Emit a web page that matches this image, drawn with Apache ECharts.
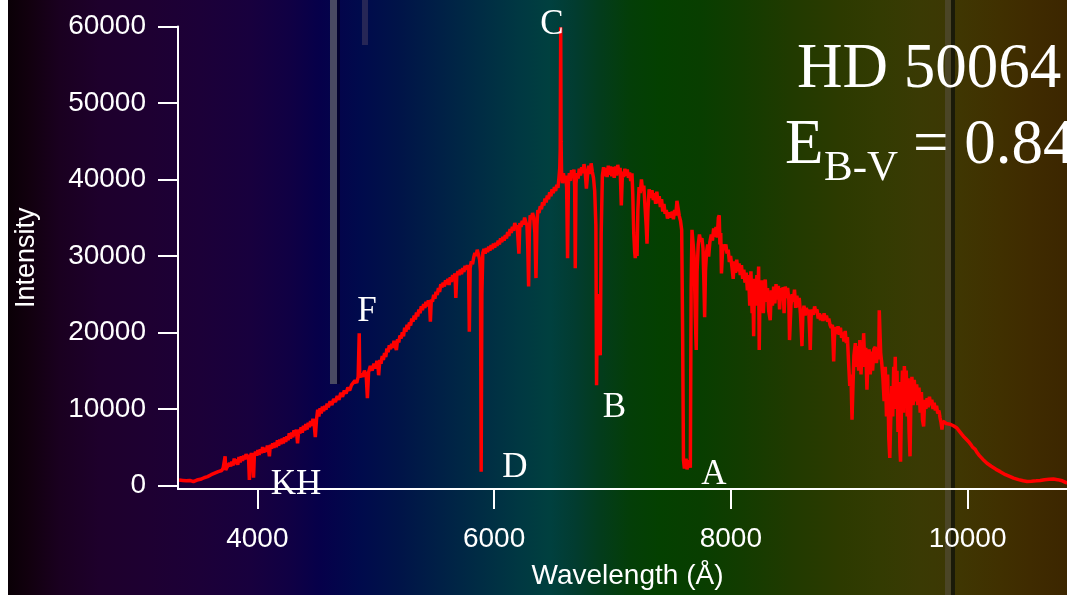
<!DOCTYPE html>
<html>
<head>
<meta charset="utf-8">
<script src="https://cdn.jsdelivr.net/npm/echarts@6/dist/echarts.min.js"></script>
<style>
html,body{margin:0;padding:0;background:#000;}
#main{width:1067px;height:595px;}
</style>
</head>
<body>
<div id="main"></div>
<script>
// spectrum, [wavelength (A), intensity]
var uvBlue = [
  [3340,700],[3355,800],[3370,650],[3385,900],[3400,600],[3415,700],[3430,650],[3445,550],[3460,500],
  [3475,650],[3490,700],[3505,750],[3520,800],[3535,950],[3550,1000],[3565,1100],[3580,1150],[3595,1300],
  [3610,1400],[3625,1500],[3640,1600],[3655,1750],[3670,1800],[3685,1900],[3700,1950],[3712,2300],
  [3720,2200],[3728,3800],[3733,2000],[3745,2400],[3755,2200],[3765,2900],[3775,2500],[3785,3100],
  [3795,2600],[3805,3500],[3815,2800],[3825,3400],[3835,2700],[3845,3700],[3855,3000],[3865,3800],
  [3875,3200],[3885,3900],[3895,3400],[3905,4100],[3915,3500],[3925,4000],[3933,700],[3940,3600],
  [3950,4200],[3960,3700],[3968,1000],[3975,3900],[3985,4400],[3995,3900],[4005,4600],[4015,4000],
  [4025,4700],[4035,4200],[4045,5000],[4055,4300],[4065,4900],[4075,4400],[4085,5200],[4095,4600],
  [4102,3800],[4110,5300],[4120,4800],[4130,5500],[4140,4900],[4150,5600],[4160,5000],[4170,5900],
  [4180,5200],[4190,6000],[4200,5400],[4210,6100],[4220,5500],[4230,6300],[4240,5700],[4250,6400],
  [4260,5900],[4270,6800],[4280,6100],[4290,6900],[4300,6300],[4310,7200],[4320,6500],[4330,7300],
  [4340,5500],[4350,7300],[4360,6800],[4370,7600],[4380,6900],[4390,7800],[4400,7200],[4410,8000],
  [4420,7300],[4430,8200],[4440,7600],[4450,8400],[4460,7800],[4470,8700],[4480,8000],[4490,6300]
];
var blueGreen = [
  [4500,8600],[4510,9900],[4520,9000],[4530,10100],[4540,9400],[4550,10300],[4560,9700],[4570,10400],
  [4580,9900],[4590,10700],[4600,10200],[4615,11000],[4630,10500],[4645,11300],[4660,10900],[4675,11700],
  [4690,11200],[4705,12100],[4720,11600],[4735,12400],[4750,12000],[4765,12800],[4780,12400],[4795,13100],
  [4810,12900],[4825,13700],[4840,13400],[4852,14200],[4858,14000],[4861,19900],[4865,14100],[4875,14600],
  [4890,14200],[4905,15000],[4920,14300],[4930,11400],[4940,14800],[4955,15600],[4970,15000],[4985,15900],
  [5000,15300],[5010,16300],[5020,15500],[5025,14400],[5035,16400],[5045,15900],[5055,16900],[5065,16400],
  [5075,17300],[5085,16800],[5095,17900],[5105,17400],[5115,18300],[5125,17800],[5135,18500],[5145,18000],
  [5155,18900],[5165,18200],[5175,17700],[5185,19100],[5195,18700],[5205,19600],[5215,19200],[5225,20000],
  [5235,19500],[5245,20600],[5255,20100],[5265,21000],[5275,20400],[5285,21300],[5295,20900],[5305,21800],
  [5315,21400],[5325,22200],[5335,21700],[5345,22600],[5355,22100],[5365,23000],[5375,22500],[5385,23400],
  [5395,22900],[5405,23700],[5415,23200],[5425,24000],[5435,23400],[5445,24200],[5455,23700],[5462,21400],
  [5470,24300],[5480,24000],[5490,24900],[5500,24400],[5510,25300],[5520,24900],[5530,25800],[5540,25300],
  [5550,26300],[5560,25900],[5570,26500],[5580,26000],[5590,26800],[5600,26300],[5610,27000],[5620,26200],
  [5630,27200],[5640,26600],[5650,27500],[5660,27000],[5670,27700],[5677,24500],[5685,27400],[5695,28000],
  [5705,27500],[5715,28200],[5725,27600],[5735,28400],[5745,27900],[5755,28700],[5765,28200],[5775,28800],
  [5785,28300],[5791,20100],[5798,28400],[5808,29300],[5818,28900],[5828,29800],[5838,30400],[5848,30000],
  [5858,30800],[5868,30200],[5878,29500],[5885,28000],[5891,1800],[5897,25000],[5905,30400],[5915,30900],
  [5925,30300],[5935,31000],[5945,30500],[5955,31200],[5965,30700],[5975,31400],[5985,30900],[5995,31600]
];
var redPart = [
  [6005,31100],[6015,31700],[6025,31300],[6035,32000],[6045,31500],[6055,32300],[6065,31800],[6075,32500],
  [6085,32000],[6095,32700],[6105,32300],[6115,33100],[6125,32600],[6135,33500],[6145,33000],[6155,33800],
  [6165,33300],[6175,34300],[6185,33700],[6195,34000],[6205,31500],[6210,30300],[6218,34300],[6228,33800],
  [6238,34600],[6248,34100],[6258,35000],[6268,34400],[6278,34000],[6285,31000],[6292,26000],[6298,33000],
  [6305,35300],[6315,34800],[6325,35600],[6335,35000],[6345,33000],[6354,27100],[6362,34000],[6370,36000],
  [6380,35600],[6390,36500],[6400,36100],[6410,37000],[6420,36600],[6430,37500],[6440,37000],[6450,37900],
  [6460,37400],[6470,38300],[6480,37800],[6490,38700],[6500,38200],[6510,39000],[6520,38500],[6530,39300],
  [6540,38900],[6548,40200],[6555,41500],[6559,44000],[6563,59900],[6566,45000],[6570,41000],[6578,39500],
  [6586,40800],[6595,39600],[6605,40500],[6613,39000],[6621,29700],[6628,39500],[6636,40800],[6645,39800],
  [6655,41200],[6665,40300],[6675,41300],[6681,39000],[6686,28400],[6692,39500],[6700,40800],[6710,40100],
  [6720,41400],[6730,40500],[6740,41600],[6750,40800],[6760,42000],[6770,40900],[6780,38800],[6790,40600],
  [6800,41800],[6810,40700],[6820,42100],[6830,41000],[6840,40200],[6850,38500],[6860,34000],[6866,13100],
  [6872,24000],[6880,18500],[6888,25000],[6897,17000],[6905,33000],[6915,40500],[6925,41600],[6935,40400],
  [6945,41500],[6955,40300],[6965,41800],[6975,40600],[6985,41700],[6995,40400]
];
var farRed = [
  [7005,41600],[7015,40200],[7025,41700],[7035,40500],[7045,41900],[7055,40800],[7065,41500],[7075,36600],
  [7085,41000],[7095,40300],[7105,41400],[7115,40500],[7125,41300],[7135,40200],[7145,40900],[7155,39800],
  [7165,40800],[7172,38000],[7180,33000],[7188,30500],[7193,29700],[7200,31500],[7208,30000],[7215,36000],
  [7225,39000],[7235,38200],[7245,40000],[7255,38500],[7265,39200],[7275,36500],[7285,34000],[7292,31600],
  [7300,36000],[7310,38700],[7320,37600],[7334,38600],[7345,37300],[7355,38200],[7365,36800],[7375,38400],
  [7385,36900],[7395,37800],[7405,36400],[7415,37400],[7425,35800],[7435,36800],[7445,35500],[7455,36000],
  [7465,34900],[7475,34700],[7485,35700],[7495,35000],[7505,35800],[7515,34800],[7525,36000],[7535,35300],
  [7545,37200],[7555,37300],[7565,35200],[7575,34600],[7585,33400],[7593,20000],[7600,3300],[7608,2200],
  [7615,2000],[7622,3500],[7630,2100],[7638,2800],[7645,2600],[7652,3200],[7658,2300],[7665,26000],
  [7672,33400],[7682,31500],[7690,30000],[7700,22000],[7708,17700],[7715,28000],[7725,31500],[7735,32800],
  [7745,31900],[7756,32300],[7765,31000],[7772,27000],[7779,22000],[7786,28000],[7795,30500],[7805,31500],
  [7813,29900],[7823,31800],[7835,32800],[7845,32000],[7855,33600],[7865,32500],[7875,33800],[7885,32400],
  [7895,35000],[7902,35300],[7908,31500],[7915,33000],[7921,27700],[7928,30000],[7938,31500],[7948,30800],
  [7958,31500],[7968,30300],[7978,30800],[7988,29200],[7998,30000]
];
var nearIR = [
  [8010,28500],[8020,27000],[8030,29300],[8040,27800],[8050,29500],[8060,28000],[8070,29000],[8080,27500],
  [8090,28800],[8100,27000],[8110,28200],[8120,26500],[8130,27800],[8140,25500],[8150,27500],[8160,23500],
  [8170,28000],[8180,22500],[8186,26000],[8193,19500],[8200,27000],[8210,23500],[8220,27500],[8228,24000],
  [8235,28600],[8240,17700],[8247,26000],[8255,23500],[8265,26800],[8275,22500],[8285,26500],[8291,26900],
  [8300,24000],[8310,25800],[8320,22800],[8333,21600],[8342,25500],[8352,23500],[8362,26000],[8372,23800],
  [8382,26300],[8392,24300],[8402,26100],[8412,23000],[8422,25800],[8432,24200],[8442,25900],[8450,22500],
  [8460,26000],[8470,24500],[8480,25800],[8490,24300],[8496,19000],[8502,19000],[8508,23500],[8518,25000],
  [8528,24000],[8538,25600],[8548,23200],[8558,24800],[8568,23300],[8578,24500],[8588,22500],[8596,20000],
  [8601,18200],[8608,22000],[8618,23500],[8628,22200],[8638,23200],[8648,22400],[8658,23000],[8665,20500],
  [8671,17700],[8678,22000],[8688,23000],[8698,22300],[8708,23400],[8718,22600],[8728,23000],[8738,21800],
  [8748,22500],[8758,21600],[8768,22300],[8778,21500],[8788,22500],[8798,21600],[8808,22200],[8818,21400],
  [8828,21800],[8838,21000],[8848,20600],[8858,21000],[8864,18500],[8869,16200],[8876,19500],[8886,20700],
  [8896,19800],[8906,20800],[8916,19700],[8926,20600],[8936,19300],[8946,20000],[8956,18800],[8966,20200],
  [8976,18600],[8985,19400],[8995,16000],[9005,13000],[9015,14500],[9024,8600],[9032,13000],[9040,17000],
  [9052,18600],[9060,15500],[9070,18200],[9080,15000],[9090,19000],[9100,14500],[9110,18500],[9116,15500],
  [9122,19900],[9130,16500],[9140,18000],[9150,12500],[9158,16000],[9168,17800],[9178,14500],[9188,17500],
  [9198,15000],[9208,17800],[9220,18100],[9230,16000],[9240,17600],[9250,16500],[9254,22900],[9260,22900],
  [9266,17300],[9275,16000],[9285,14000],[9295,11000],[9305,15500],[9315,9000],[9325,14500],[9335,6000],
  [9343,3600],[9350,8000],[9360,13000],[9368,9000],[9376,15500],[9384,12000],[9389,16800],[9396,10000],
  [9404,15000],[9412,7000],[9420,13500],[9428,5000],[9434,3100],[9442,11000],[9450,15000],[9458,9500],
  [9466,15600],[9474,13000],[9482,15000],[9490,9000],[9498,14000],[9506,7000],[9514,3800],[9522,12000],
  [9530,14200],[9540,10500],[9550,13800],[9560,11000],[9570,13200],[9580,10500],[9590,12800],[9600,9500],
  [9610,12200],[9620,8500],[9629,7700],[9638,11200],[9648,10000],[9658,11400],[9668,10200],[9678,11600],
  [9688,10500],[9698,11200],[9708,10000],[9718,10800],[9728,9800],[9738,10400],[9748,9400],[9758,9800],
  [9768,8800],[9776,8200],[9784,7300],[9792,8400],[9805,8600],[9820,8100],[9835,8300],[9850,8000],
  [9865,8200],[9880,7800],[9896,7900],[9910,7500],[9930,7100],[9950,6700],[9966,6400],[9985,6100],
  [10000,5900],[10015,5600],[10030,5300],[10042,5000],[10050,4800],[10056,5200],[10065,4700],[10080,4300],
  [10100,3900],[10130,3400],[10164,2900],[10200,2500],[10240,2100],[10276,1800],[10320,1400],[10360,1150],
  [10389,950],[10430,750],[10470,600],[10502,520],[10540,550],[10580,600],[10614,650],[10650,750],
  [10690,800],[10726,830],[10760,750],[10800,600],[10842,300]
];
var spectrum = uvBlue.concat(blueGreen, redPart, farRed, nearIR);

// Fraunhofer letters, placed at [wavelength, intensity]
var lineMarks = [
  ['KH', 4327, 90],
  ['F', 4927, 22700],
  ['D', 6176, 2300],
  ['C', 6489, 60250],
  ['B', 7017, 10150],
  ['A', 7857, 1400]
];
var xTicks = [4000, 6000, 8000, 10000];
var yTicks = [0, 10000, 20000, 30000, 40000, 50000, 60000];

// background colour of the strip behind the plot, [pixel x, colour]
var bgStops = [
  [8,'#0a0006'],[30,'#12000f'],[60,'#1a0020'],[100,'#1e002c'],[150,'#1e0032'],[200,'#1c0038'],
  [250,'#18003e'],[290,'#100044'],[320,'#06004a'],[360,'#000a4c'],[400,'#001448'],[440,'#002046'],
  [480,'#002c44'],[520,'#003842'],[550,'#00403f'],[575,'#023c30'],[600,'#033c1c'],[630,'#043e08'],
  [660,'#044000'],[700,'#083e00'],[740,'#123c00'],[790,'#203a00'],[840,'#2c3a00'],[880,'#333b02'],
  [920,'#3a3a04'],[945,'#3c3804'],[960,'#3f3602'],[1000,'#403000'],[1030,'#3f2b00'],[1067,'#3c2600']
];

var myChart = echarts.init(document.getElementById('main'));

var stops = bgStops.map(function (s) {
  return { offset: (s[0] - 8) / 1059, color: s[1] };
});

var axisFont = 'Liberation Sans';
var serif = 'Liberation Serif';
function plain(v) { return String(v); }

var option = {
  animation: false,
  grid: { left: 178, right: 0, top: 26.4, bottom: 105.7 },
  graphic: [
    { type: 'rect', z: -10, shape: { x: 0, y: 0, width: 8, height: 595 }, style: { fill: '#ffffff' } },
    { type: 'rect', z: -10, shape: { x: 8, y: 0, width: 1059, height: 595 },
      style: { fill: new echarts.graphic.LinearGradient(0, 0, 1, 0, stops) } },
    { type: 'rect', z: -9, shape: { x: 330, y: 0, width: 7, height: 384 }, style: { fill: '#4a4a62' } },
    { type: 'rect', z: -9, shape: { x: 337, y: 0, width: 3, height: 384 }, style: { fill: '#02002e' } },
    { type: 'rect', z: -9, shape: { x: 362, y: 0, width: 6, height: 45 }, style: { fill: '#262656' } },
    { type: 'rect', z: -9, shape: { x: 945, y: 0, width: 6, height: 595 }, style: { fill: '#4b4526' } },
    { type: 'rect', z: -9, shape: { x: 951, y: 0, width: 4, height: 595 }, style: { fill: '#1a1a08' } },
    { type: 'text', z: 10, left: 797, top: 39,
      style: { text: 'HD 50064', fill: '#ffffff', font: '63px "' + serif + '"' } },
    { type: 'text', z: 10, left: 785, top: 115,
      style: { text: 'E', fill: '#ffffff', font: '63px "' + serif + '"' } },
    { type: 'text', z: 10, left: 824, top: 147,
      style: { text: 'B-V', fill: '#ffffff', font: '43px "' + serif + '"' } },
    { type: 'text', z: 10, left: 913, top: 115,
      style: { text: '= 0.84', fill: '#ffffff', font: '63px "' + serif + '"' } }
  ],
  xAxis: {
    type: 'value',
    min: 3330,
    max: 10840,
    name: 'Wavelength (\u00c5)',
    nameLocation: 'middle',
    nameGap: 73,
    nameTextStyle: { color: '#ffffff', fontSize: 28, fontFamily: axisFont, padding: [0, 0, 0, 10] },
    axisLine: { onZero: false, lineStyle: { color: '#ffffff', width: 2 } },
    axisTick: { length: 20, customValues: xTicks, lineStyle: { color: '#ffffff', width: 2 } },
    axisLabel: { customValues: xTicks, formatter: plain, margin: 36, color: '#ffffff', fontSize: 28, fontFamily: axisFont },
    splitLine: { show: false }
  },
  yAxis: {
    type: 'value',
    min: -470,
    max: 60000,
    name: 'Intensity',
    nameLocation: 'middle',
    nameGap: 138,
    nameTextStyle: { color: '#ffffff', fontSize: 27, fontFamily: axisFont },
    axisLine: { lineStyle: { color: '#ffffff', width: 2 } },
    axisTick: { length: 20, customValues: yTicks, lineStyle: { color: '#ffffff', width: 2 } },
    axisLabel: { customValues: yTicks, formatter: plain, margin: 32, color: '#ffffff', fontSize: 28, fontFamily: axisFont },
    splitLine: { show: false }
  },
  series: [
    {
      type: 'line',
      data: spectrum,
      showSymbol: false,
      z: 3,
      lineStyle: { color: '#ff0000', width: 3.5 },
      itemStyle: { color: '#ff0000' },
      silent: true
    },
    {
      type: 'scatter',
      clip: false,
      silent: true,
      z: 5,
      symbolSize: 1,
      itemStyle: { color: 'rgba(0,0,0,0)', opacity: 1 },
      data: lineMarks.map(function (m) { return { name: m[0], value: [m[1], m[2]] }; }),
      label: {
        show: true,
        position: 'inside',
        formatter: '{b}',
        color: '#ffffff',
        fontSize: 35,
        fontFamily: serif
      }
    }
  ]
};

myChart.setOption(option);
</script>
</body>
</html>
